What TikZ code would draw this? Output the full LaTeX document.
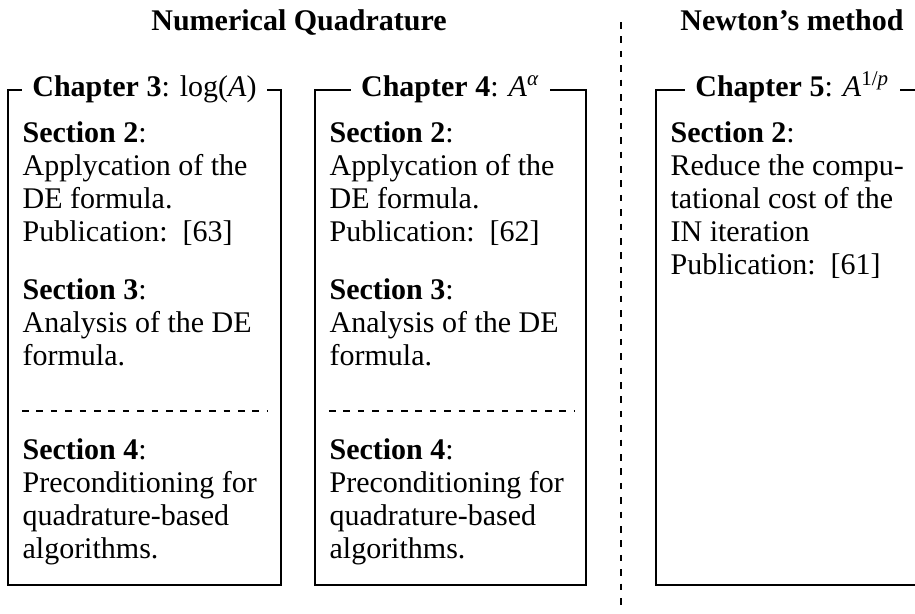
\documentclass[tikz,border=0pt]{standalone}
\usepackage{fontspec}
\setmainfont{Liberation Serif}
\newcommand{\sect}[1]{\textbf{Section #1}:}
\newcommand{\pub}[1]{Publication:\hspace{5pt}[#1]}
\newcommand{\stack}[1]{\begin{tabular}[t]{@{}l@{}}#1\end{tabular}}
\tikzset{
  body/.style={font=\fontsize{10pt}{11pt}\selectfont},
  frame/.style={draw=black, line width=0.4pt},
  boxtitle/.style={body, fill=white, inner xsep=3.3pt, inner ysep=1pt, anchor=base},
  para/.style={body, anchor=base west, inner sep=0pt},
  heading/.style={font=\fontsize{10pt}{11pt}\selectfont\bfseries, anchor=base, inner sep=0pt},
  splitline/.style={line width=0.4pt, dash pattern=on 2.2pt off 2.6pt},
  divider/.style={line width=0.4pt, dash pattern=on 2.2pt off 2.6pt},
}
\begin{document}
\begin{tikzpicture}[x=0.33333pt,y=-0.33333pt]
\useasboundingbox (0,0) rectangle (915,614);
\clip (0,0) rectangle (915,614);

% group headings
\node[heading] (quad) at (299,30) {Numerical Quadrature};
\node[heading] (newton) at (792,30) {Newton's method};

% vertical divider between the two groups
\coordinate (dtop) at (621,22);
\coordinate (dbot) at (621,610);
\draw[divider] (dtop) -- (dbot);

% chapter frames
\draw[frame] (8,90) rectangle (281,585);
\draw[frame] (315,90) rectangle (586,585);
\draw[frame] (656,90) rectangle (929,585);

% chapter titles sitting on the top edges
\node[boxtitle] (c3) at (144.5,96) {\textbf{Chapter 3}: log(\textit{A})};
\node[boxtitle] (c4) at (450.5,96) {\textbf{Chapter 4}: \textit{A}\textsuperscript{\textit{α}}};
\node[boxtitle] (c5) at (792.5,96) {\textbf{Chapter 5}: \textit{A}\textsuperscript{1/\textit{p}}};

% Chapter 3
\node[para] (c3s2) at (22,142) {\stack{\sect{2}\\ Applycation of the\\ DE formula.\\ \pub{63}}};
\node[para] (c3s3) at (22,299) {\stack{\sect{3}\\ Analysis of the DE\\ formula.}};
\draw[splitline] (22,411) -- (268,411);
\node[para] (c3s4) at (22,459) {\stack{\sect{4}\\ Preconditioning for\\ quadrature-based\\ algorithms.}};

% Chapter 4
\node[para] (c4s2) at (329,142) {\stack{\sect{2}\\ Applycation of the\\ DE formula.\\ \pub{62}}};
\node[para] (c4s3) at (329,299) {\stack{\sect{3}\\ Analysis of the DE\\ formula.}};
\draw[splitline] (329,411) -- (575,411);
\node[para] (c4s4) at (329,459) {\stack{\sect{4}\\ Preconditioning for\\ quadrature-based\\ algorithms.}};

% Chapter 5
\node[para] (c5s2) at (670,142) {\stack{\sect{2}\\ Reduce the compu-\\ tational cost of the\\ IN iteration\\ \pub{61}}};
\end{tikzpicture}
\end{document}
